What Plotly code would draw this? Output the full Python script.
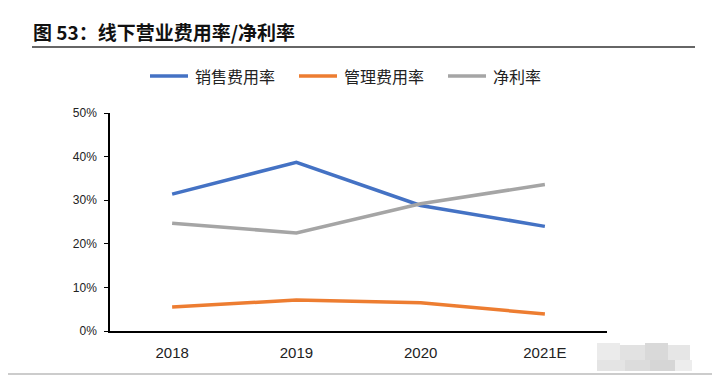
import plotly.graph_objects as go

categories = ["2018", "2019", "2020", "2021E"]
sales_rate = [0.314, 0.387, 0.288, 0.240]
admin_rate = [0.055, 0.071, 0.065, 0.039]
net_rate = [0.247, 0.225, 0.292, 0.336]
y_ticks = [0, 0.1, 0.2, 0.3, 0.4, 0.5]
series_names = ["销售费用率", "管理费用率", "净利率"]
title_text = "图 53：线下营业费用率/净利率"

# page body has an 8px margin; work in reference pixel coords and shift
OFF = 8
W, H = 720 - OFF, 375 - OFF
L, R, T, B = 110 - OFF, 607 - OFF, 113 - OFF, 331 - OFF


def px(x):
    return (x - OFF - L) / (R - L)


def py(y):
    return (B - (y - OFF)) / (B - T)


colors = ["#4472C4", "#ED7D31", "#A5A5A5"]
fig = go.Figure()
for name, vals, color in zip(series_names, [sales_rate, admin_rate, net_rate], colors):
    fig.add_trace(go.Scatter(x=categories, y=vals, name=name, mode="lines",
                             line=dict(color=color, width=3.5), showlegend=False))

fig.update_layout(
    width=W, height=H,
    margin=dict(l=L, r=W - R, t=T, b=H - B, pad=0),
    plot_bgcolor="white", paper_bgcolor="white",
    title=dict(text="<b>" + title_text + "</b>", xref="container", yref="container",
               x=(33 - OFF) / W, xanchor="left", y=1 - (33 - OFF) / H, yanchor="middle",
               font=dict(family="Noto Sans CJK SC", size=19, color="#111")),
    font=dict(family="Liberation Sans", size=12, color="#222"),
)
fig.update_xaxes(type="category", range=[-0.5, 3.5], showline=True, linecolor="black",
                 linewidth=1.5, ticks="", showgrid=False, ticklabelstandoff=7,
                 tickfont=dict(size=15, color="#222"), fixedrange=True)
fig.update_yaxes(range=[0, 0.5], tickvals=y_ticks, tickformat=".0%", showline=True,
                 linecolor="black", linewidth=1.5, ticks="outside", ticklen=4,
                 tickcolor="black", showgrid=False, zeroline=False, ticklabelstandoff=5,
                 tickfont=dict(size=12, color="#222"), fixedrange=True)

# manual legend
leg_x = [150, 299, 448]
for name, color, x0 in zip(series_names, colors, leg_x):
    fig.add_shape(type="line", xref="paper", yref="paper", x0=px(x0), x1=px(x0 + 38),
                  y0=py(76), y1=py(76), line=dict(color=color, width=3.5))
    fig.add_annotation(xref="paper", yref="paper", x=px(x0 + 43), y=py(76),
                       xanchor="left", yanchor="middle", showarrow=False, text=name,
                       font=dict(family="Noto Sans CJK SC", size=16, color="#222"))

# title underline
fig.add_shape(type="line", xref="paper", yref="paper", x0=px(32), x1=px(695),
              y0=py(47), y1=py(47), line=dict(color="#333", width=1.5))
# bottom grey rule
fig.add_shape(type="line", xref="paper", yref="paper", x0=px(0), x1=px(720),
              y0=py(374), y1=py(374), line=dict(color="#BBBBBB", width=1.5))
# blurred watermark block
blocks = [(597, 620, 343, 360, "#EBEBEB"), (620, 645, 345, 360, "#E2E2E2"),
          (645, 668, 343, 360, "#D9D9D9"), (668, 690, 345, 360, "#E6E6E6"),
          (597, 625, 360, 371, "#E4E4E4"), (625, 650, 360, 371, "#DCDCDC"),
          (650, 675, 360, 371, "#D6D6D6"), (675, 692, 360, 371, "#EDEDED")]
for x0, x1, y0, y1, c in blocks:
    fig.add_shape(type="rect", xref="paper", yref="paper", x0=px(x0), x1=px(x1),
                  y0=py(y1), y1=py(y0), line=dict(width=0), fillcolor=c, layer="below")

fig.write_html("out.html")
